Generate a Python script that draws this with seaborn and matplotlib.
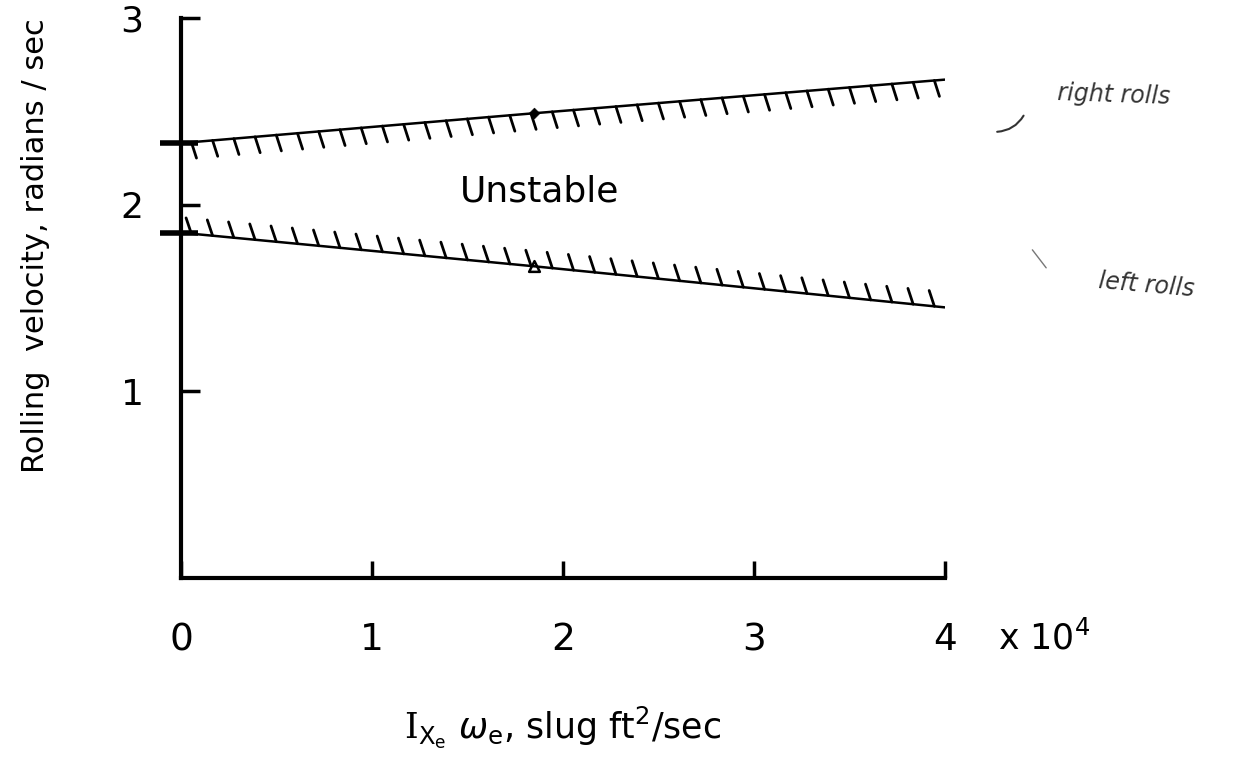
import matplotlib
matplotlib.use("Agg")
import numpy as np
import pandas as pd
import matplotlib.pyplot as plt
import matplotlib.patheffects as pe
import seaborn as sns

# values
x_pts = [0.0, 1.85, 4.0]             # I_Xe * w_e, x 10^4 slug ft^2/sec
upper_bound = [2.33, 2.49, 2.67]     # right rolls boundary, rad/sec
lower_bound = [1.85, 1.67, 1.45]     # left rolls boundary, rad/sec
mark_x = [1.85]
mark_upper = [2.49]
mark_lower = [1.67]
x_ticks = [0, 1, 2, 3, 4]
y_ticks = [1, 2, 3]

sns.set_theme(style="white")
plt.rcParams['font.family'] = ['DejaVu Sans']
plt.rcParams['mathtext.fontset'] = 'custom'
plt.rcParams['mathtext.rm'] = 'DejaVu Serif'
plt.rcParams['mathtext.sf'] = 'DejaVu Sans'
plt.rcParams['mathtext.it'] = 'DejaVu Sans:italic'

df = pd.DataFrame({"x": x_pts, "upper": upper_bound, "lower": lower_bound})

fig = plt.figure(figsize=(12.5, 7.74), dpi=100)
ax = fig.add_axes([0.1448, 0.2532, 0.611, 0.7235])

# boundary lines with hatching on the stable side
sns.lineplot(data=df, x="x", y="upper", ax=ax, color="black", lw=1.8,
             path_effects=[pe.withTickedStroke(angle=-77, spacing=15, length=0.8, linewidth=2)])
sns.lineplot(data=df, x="x", y="lower", ax=ax, color="black", lw=1.8,
             path_effects=[pe.withTickedStroke(angle=114, spacing=15, length=0.8, linewidth=2)])

sns.scatterplot(x=mark_x, y=mark_upper, ax=ax, marker="D", s=30, color="black", edgecolor="black")
sns.scatterplot(x=mark_x, y=mark_lower, ax=ax, marker="^", s=60, facecolor="white", edgecolor="black", linewidth=1.8)

# short heavy marks where the bounds meet the axis
for yv in (upper_bound[0], lower_bound[0]):
    ax.plot([-0.11, 0.09], [yv, yv], color="black", lw=4, clip_on=False, solid_capstyle="butt")

ax.text(1.88, 2.07, "Unstable", ha="center", va="center", fontsize=26, color="black")

# handwritten notes
note_kw = dict(fontsize=17, style="italic", color="#333333", clip_on=False, va="center", ha="left")
ax.text(4.59, 2.59, "right rolls", rotation=-2, **note_kw)
ax.text(4.80, 1.57, "left rolls", rotation=-5, **note_kw)
ax.annotate("", xy=(4.26, 2.39), xytext=(4.42, 2.49),
            arrowprops=dict(arrowstyle="-", color="#333333", lw=1.5, connectionstyle="arc3,rad=-0.3"),
            annotation_clip=False)
ax.annotate("", xy=(4.54, 1.65), xytext=(4.45, 1.77),
            arrowprops=dict(arrowstyle="-", color="#777777", lw=1.0),
            annotation_clip=False)

ax.set_xlim(0, 4)
ax.set_ylim(0, 3)
ax.set_xticks(x_ticks)
ax.set_yticks(y_ticks)
ax.set_xticklabels([str(t) for t in x_ticks], fontsize=27)
ax.set_yticklabels([str(t) for t in y_ticks], fontsize=26)
ax.tick_params(axis="x", bottom=True, direction="in", length=12, width=2.5, pad=32, colors="black")
ax.tick_params(axis="y", left=True, direction="in", length=14, width=2.5, pad=27, colors="black")

sns.despine(ax=ax)
for s in ("left", "bottom"):
    ax.spines[s].set_linewidth(3)
    ax.spines[s].set_color("black")

ax.text(1.07, -0.075, r"x 10$^{\mathsf{4}}$", transform=ax.transAxes, fontsize=25,
        ha="left", va="top", color="black")

ax.set_xlabel(r"$\mathrm{I}_{\mathsf{X_e}}\ \omega_{\mathsf{e}}$, slug ft$^{\mathsf{2}}$/sec",
              fontsize=25, color="black")
ax.xaxis.set_label_coords(0.5, -0.225)
ax.set_ylabel("Rolling  velocity, radians / sec", fontsize=22, color="black")
ax.yaxis.set_label_coords(-0.171, 0.593)

fig.savefig("out.png", dpi=100, facecolor="white")
